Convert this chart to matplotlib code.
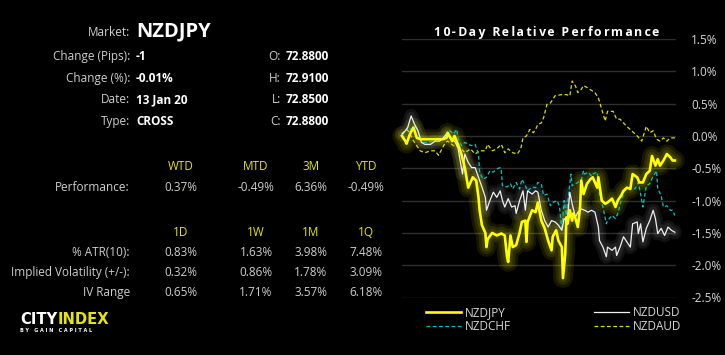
import matplotlib
matplotlib.use("Agg")
import matplotlib.pyplot as plt
from matplotlib.ticker import FuncFormatter, MultipleLocator

plt.rcParams['font.family'] = ['Open Sans', 'DejaVu Sans']

W, H = 725, 355

# (hour index over the 10 days, % change)
nzdjpy = [(0, 0.0), (3, -0.08), (4, -0.12), (7, 0.03), (10, 0.13), (13, -0.03), (16, -0.05),
          (36, -0.05), (39, -0.03), (40, 0.05), (44, -0.08), (46, 0.0), (49, -0.13), (52, -0.28),
          (55, -0.49), (58, -0.8), (60, -0.72), (62, -0.64), (65, -0.69), (67, -0.95), (68, -1.15),
          (70, -1.38), (73, -1.5), (74, -1.72), (75, -1.6), (79, -1.5), (83, -1.54), (87, -1.51),
          (90, -1.54), (92, -1.87), (93, -1.95), (95, -1.54), (97, -1.72), (100, -1.69), (103, -1.5),
          (105, -1.33), (108, -1.31), (109, -1.64), (110, -1.33), (114, -1.15), (117, -1.18),
          (119, -1.03), (122, -1.31), (125, -1.43), (128, -1.62), (131, -1.77), (132, -1.56),
          (135, -1.46), (137, -1.62), (140, -1.72), (141, -2.2), (143, -1.82), (144, -1.26),
          (145, -1.36), (147, -1.15), (149, -1.31), (150, -1.2), (152, -1.28), (154, -1.41),
          (156, -1.1), (157, -0.69), (159, -0.9), (162, -0.74), (165, -0.67), (167, -0.64),
          (171, -0.8), (172, -0.64), (175, -1.0), (178, -1.05), (180, -1.03), (184, -0.97),
          (187, -1.1), (189, -1.0), (192, -0.92), (194, -0.85), (197, -0.8), (200, -0.82),
          (202, -0.59), (206, -0.64), (208, -0.72), (211, -0.72), (214, -0.59), (217, -0.54),
          (219, -0.31), (222, -0.46), (224, -0.36), (226, -0.46), (229, -0.38), (232, -0.28),
          (235, -0.33), (237, -0.38), (239, -0.38)]

nzdusd = [(0, 0.03), (3, 0.08), (5, 0.13), (8, 0.31), (11, 0.18), (14, 0.08), (17, -0.1), (20, -0.13),
          (25, -0.13), (29, -0.08), (33, -0.08), (36, -0.03), (39, 0.03), (42, -0.03), (46, -0.08),
          (49, -0.18), (52, -0.49), (53, -0.59), (55, -0.28), (58, -0.41), (61, -0.49), (64, -0.49),
          (67, -0.64), (70, -0.79), (73, -0.95), (74, -1.15), (77, -1.0), (80, -0.87), (83, -0.95),
          (86, -0.85), (88, -1.0), (90, -1.1), (93, -0.97), (96, -1.1), (99, -1.08), (100, -1.2),
          (103, -1.0), (106, -0.85), (108, -1.15), (110, -0.85), (114, -0.9), (117, -0.85),
          (119, -0.87), (122, -1.15), (125, -1.31), (128, -1.41), (131, -1.31), (134, -1.33),
          (137, -1.38), (140, -1.46), (142, -1.28), (144, -1.31), (145, -1.26), (147, -0.87),
          (149, -1.05), (152, -1.26), (154, -1.18), (157, -1.13), (160, -1.15), (163, -1.18),
          (166, -1.15), (169, -1.18), (172, -1.41), (173, -1.62), (176, -1.72), (179, -1.87),
          (180, -1.72), (184, -1.77), (187, -1.72), (188, -1.85), (191, -1.72), (194, -1.56),
          (197, -1.64), (200, -1.72), (202, -1.36), (206, -1.33), (207, -1.51), (209, -1.36),
          (211, -1.64), (214, -1.43), (217, -1.31), (220, -1.15), (222, -1.28), (224, -1.51),
          (227, -1.43), (230, -1.54), (233, -1.41), (236, -1.46), (239, -1.49)]

nzdchf = [(0, 0.0), (3, 0.08), (5, 0.13), (8, 0.1), (11, 0.15), (14, 0.08), (16, -0.05), (18, -0.1),
          (23, -0.1), (27, -0.08), (32, -0.05), (36, -0.05), (39, 0.05), (42, 0.08), (45, 0.03),
          (48, 0.1), (49, -0.03), (52, -0.15), (55, -0.1), (58, -0.13), (61, -0.15), (64, -0.13),
          (67, -0.28), (68, -0.56), (71, -0.67), (74, -0.64), (77, -0.54), (80, -0.56), (83, -0.51),
          (86, -0.49), (87, -0.54), (88, -0.77), (92, -0.79), (95, -0.74), (97, -0.82), (100, -0.72),
          (103, -0.82), (105, -0.67), (108, -0.77), (110, -0.85), (114, -0.79), (117, -0.8),
          (119, -0.72), (122, -0.74), (124, -0.92), (127, -0.9), (130, -1.08), (132, -1.03),
          (136, -1.0), (138, -1.1), (140, -1.46), (142, -1.0), (144, -1.23), (145, -1.05),
          (148, -0.59), (149, -0.77), (152, -0.74), (154, -0.72), (157, -0.69), (159, -0.54),
          (160, -0.59), (163, -0.56), (166, -0.62), (167, -0.59), (171, -0.56), (173, -0.9),
          (176, -1.1), (179, -1.36), (180, -1.31), (184, -1.23), (187, -1.28), (189, -1.2),
          (192, -1.0), (195, -0.85), (198, -0.82), (201, -0.79), (204, -0.82), (207, -0.72),
          (209, -0.9), (211, -1.1), (214, -0.77), (217, -0.74), (220, -0.62), (223, -0.54),
          (224, -0.82), (227, -0.92), (229, -1.1), (232, -1.08), (235, -1.15), (237, -1.15),
          (239, -1.23)]

nzdaud = [(0, 0.03), (4, 0.1), (7, 0.05), (9, -0.05), (11, -0.1), (16, -0.23), (20, -0.26), (25, -0.23),
          (29, -0.23), (32, -0.3), (35, -0.2), (38, -0.1), (40, -0.08), (45, -0.15), (51, -0.18),
          (55, -0.26), (60, -0.2), (64, -0.28), (68, -0.23), (73, -0.23), (75, -0.13), (79, -0.23),
          (83, -0.2), (87, -0.13), (90, -0.26), (93, -0.2), (97, -0.26), (101, -0.28), (104, -0.2),
          (106, -0.03), (109, 0.0), (112, 0.1), (115, 0.05), (117, 0.1), (119, 0.18), (122, 0.2),
          (124, 0.28), (127, 0.49), (130, 0.51), (134, 0.62), (140, 0.64), (144, 0.64), (147, 0.62),
          (149, 0.85), (152, 0.77), (154, 0.67), (157, 0.72), (159, 0.78), (163, 0.74), (169, 0.67),
          (172, 0.59), (175, 0.41), (178, 0.23), (180, 0.38), (185, 0.38), (188, 0.26), (191, 0.26),
          (194, 0.2), (198, 0.13), (203, 0.05), (206, 0.0), (210, -0.08), (214, 0.15), (217, 0.05),
          (220, 0.08), (223, -0.05), (226, -0.08), (229, -0.03), (232, -0.08), (235, -0.03),
          (239, -0.03)]

info_labels = ["Market:", "Change (Pips):", "Change (%):", "Date:", "Type:"]
info_values = ["NZDJPY", "-1", "-0.01%", "13 Jan 20", "CROSS"]
ohlc_labels = ["O:", "H:", "L:", "C:"]
ohlc_values = ["72.8800", "72.9100", "72.8500", "72.8800"]

perf_periods = ["WTD", "MTD", "3M", "YTD"]
perf_values = ["0.37%", "-0.49%", "6.36%", "-0.49%"]
vol_periods = ["1D", "1W", "1M", "1Q"]
vol_rows = ["% ATR(10):", "Implied Volatility (+/-):", "IV Range"]
vol_values = [["0.83%", "1.63%", "3.98%", "7.48%"],
              ["0.32%", "0.86%", "1.78%", "3.09%"],
              ["0.65%", "1.71%", "3.57%", "6.18%"]]

LABEL_C = '#cfcfcf'
YEL = '#e6e600'

fig = plt.figure(figsize=(7.25, 3.55), dpi=100, facecolor='black')


def txt(x, y, s, **kw):
    # x, y in pixels from the top-left corner
    return fig.text(x / W, 1 - y / H, s, **kw)


# info block
rows_y = [36, 60, 82, 103, 125]
for i, (lab, val) in enumerate(zip(info_labels, info_values)):
    txt(130, rows_y[i], lab, ha='right', va='baseline', fontsize=8.5, color=LABEL_C)
    size = 14.5 if i == 0 else 8.5
    txt(136, rows_y[i], val, ha='left', va='baseline', fontsize=size, color='white', weight='bold')
for i, (lab, val) in enumerate(zip(ohlc_labels, ohlc_values)):
    txt(281, rows_y[i + 1], lab, ha='right', va='baseline', fontsize=8.5, color=LABEL_C)
    txt(286, rows_y[i + 1], val, ha='left', va='baseline', fontsize=8.5, color='white', weight='bold')

# performance / volatility table
cols_x = [181, 256, 311, 366]
for cx, p, v in zip(cols_x, perf_periods, perf_values):
    txt(cx, 170, p, ha='center', va='baseline', fontsize=8.5, color=YEL)
    txt(cx, 191.5, v, ha='center', va='baseline', fontsize=8.5, color=LABEL_C)
txt(130, 191.5, "Performance:", ha='right', va='baseline', fontsize=8.5, color=LABEL_C)

for cx, p in zip(cols_x, vol_periods):
    txt(cx, 236.5, p, ha='center', va='baseline', fontsize=8.5, color=YEL)
for ry, lab, vals in zip([256, 276, 296], vol_rows, vol_values):
    txt(130, ry, lab, ha='right', va='baseline', fontsize=8.5, color=LABEL_C)
    for cx, v in zip(cols_x, vals):
        txt(cx, ry, v, ha='center', va='baseline', fontsize=8.5, color=LABEL_C)

# logo
city = txt(20, 324, "CITY", ha='left', va='baseline', fontsize=10.6, color='white',
           weight='bold', family='DejaVu Sans')
fig.canvas.draw()
bb = city.get_window_extent()
fig.text(bb.x1 / W, 1 - 324 / H, "INDEX", ha='left', va='baseline', fontsize=10.6,
         color=YEL, weight='bold', family='DejaVu Sans')
txt(20.5, 331.5, "B Y   G A I N   C A P I T A L", ha='left', va='baseline', fontsize=3.5,
    color='white', weight='bold', family='DejaVu Sans')

# chart
ax = fig.add_axes([402 / W, 1 - 297.5 / H, (676 - 402) / W, (297.5 - 39) / H])
ax.set_facecolor('black')
ax.set_xlim(0, 240)
ax.set_ylim(-2.5, 1.5)
for s in ax.spines.values():
    s.set_visible(False)
ax.set_xticks([])
ax.yaxis.tick_right()
ax.yaxis.set_major_locator(MultipleLocator(0.5))
ax.yaxis.set_major_formatter(FuncFormatter(lambda v, p: f"{round(v, 1) + 0:.1f}%"))
ax.tick_params(axis='y', length=0, pad=11, labelcolor='#d8d8d8', labelsize=8.5)
ax.grid(axis='y', color='#2e2e2e', lw=1)
ax.set_axisbelow(True)


def xy(series):
    return [p[0] for p in series], [p[1] for p in series]


def glow(series, color, widths, alpha):
    x, y = xy(series)
    for w in widths:
        ax.plot(x, y, color=color, lw=w, alpha=alpha, solid_joinstyle='round',
                solid_capstyle='round', clip_on=False, zorder=2)


glow(nzdusd, 'white', [10, 6], 0.07)
glow(nzdjpy, '#ffff00', [14, 10, 6], 0.09)

l_aud, = ax.plot(*xy(nzdaud), color='#dcdc00', lw=0.9, ls=(0, (3, 2)), label='NZDAUD', zorder=3, clip_on=False)
l_chf, = ax.plot(*xy(nzdchf), color='#00c4c4', lw=0.9, ls=(0, (3, 2)), label='NZDCHF', zorder=3, clip_on=False)
l_usd, = ax.plot(*xy(nzdusd), color='#f0f0f0', lw=0.9, label='NZDUSD', zorder=4, clip_on=False)
l_jpy, = ax.plot(*xy(nzdjpy), color='#ffff00', lw=1.9, label='NZDJPY', zorder=5, clip_on=False,
                 solid_joinstyle='round')

# letter-spaced title: alternate thin and hair spaces between characters
title = "10-Day Relative Performance"
spaced = title[0]
for i, ch in enumerate(title[1:]):
    spaced += ("\u2009" if i % 2 == 0 else "\u200a") + ch
fig.text(546.5 / W, 1 - 36 / H, spaced, ha='center',
         va='baseline', fontsize=8.8, color='white', weight='bold')

leg = ax.legend(handles=[l_jpy, l_chf, l_usd, l_aud], ncol=2, loc='upper left',
                bbox_to_anchor=(426 / W, 1 - 306 / H), bbox_transform=fig.transFigure,
                frameon=False, fontsize=8.5, labelcolor='#d8d8d8', handlelength=3.0,
                handletextpad=0.3, columnspacing=7.0, labelspacing=0.1, borderpad=0,
                borderaxespad=0)

fig.savefig('out.png', dpi=100, facecolor='black')
